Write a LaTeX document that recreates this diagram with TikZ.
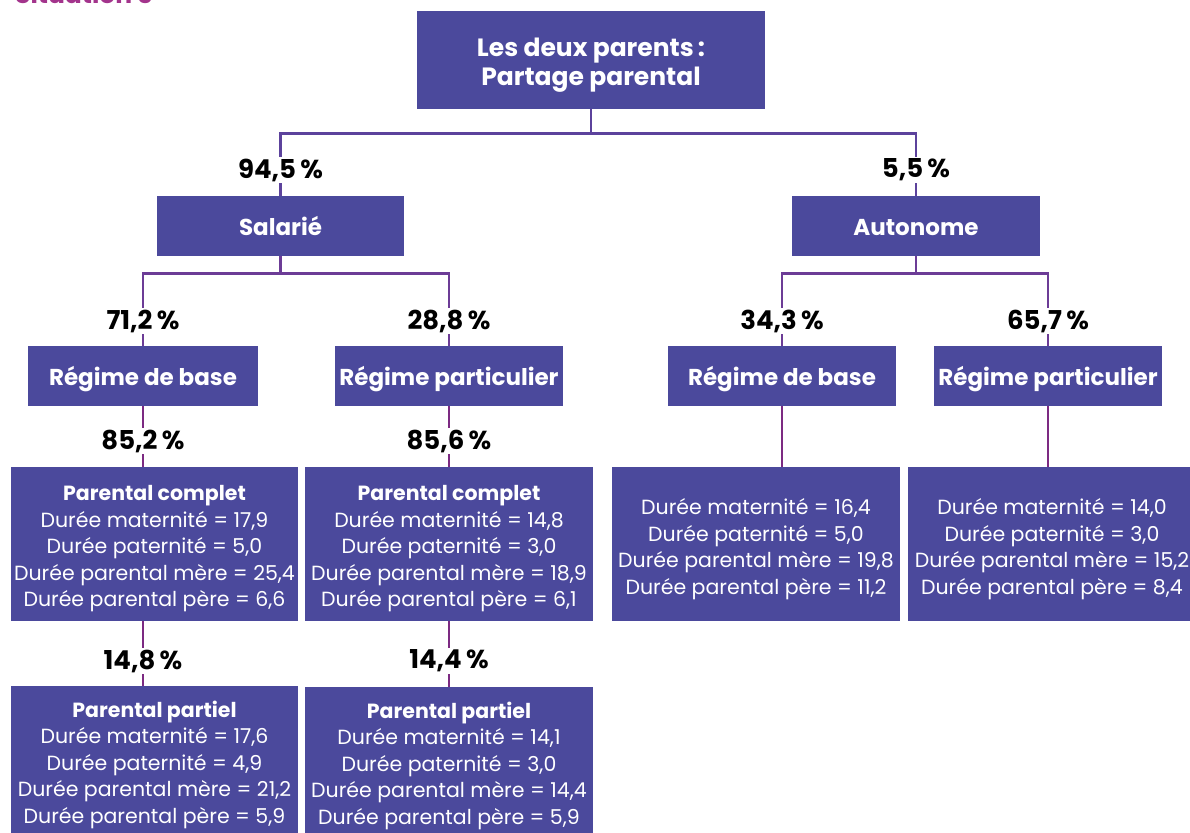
\documentclass[tikz,border=0pt]{standalone}
\usepackage{fontspec}
\setmainfont{Poppins}
\usetikzlibrary{calc}
\definecolor{boxfill}{RGB}{75,73,156}
\definecolor{lineA}{RGB}{92,66,156}
\definecolor{lineB}{RGB}{108,60,150}
\definecolor{lineC}{RGB}{124,42,130}
\definecolor{sitcol}{RGB}{163,52,140}
\tikzset{
  pbox/.style={fill=boxfill, inner sep=0pt},
  wtxt/.style={text=white, inner sep=0pt, align=center},
  headtxt/.style={wtxt, font=\bfseries\fontsize{23}{28}\selectfont, text height=20pt, text depth=2pt},
  toptxt/.style={wtxt, font=\bfseries\fontsize{25}{28.5}\selectfont},
  datatxt/.style={wtxt, font=\fontsize{20.5}{26.5}\selectfont},
  pct/.style={fill=white, inner sep=1.5pt, font=\bfseries\fontsize{26}{28}\selectfont, text=black},
  connA/.style={draw=lineA, line width=2.8pt},
  connB/.style={draw=lineB, line width=2.8pt},
  connC/.style={draw=lineC, line width=2.8pt},
}
\begin{document}
\begin{tikzpicture}[x=1pt,y=-1pt]
\useasboundingbox (0,0) rectangle (1190,832);
\begin{scope}
\clip (0,0) rectangle (1190,832);
\node[anchor=base west, text=sitcol, inner sep=0pt, font=\bfseries\fontsize{25}{28}\selectfont] (sit) at (15,4) {Situation 3};

% boxes
\node[pbox, minimum width=348pt, minimum height=98pt] (top) at (591,60) {};
\node[toptxt] (topt) at ($(top.center)+(0,5)$) {Les deux parents\,:\\Partage parental};

\node[pbox, minimum width=247pt, minimum height=60pt] (sal) at (280.5,226) {};
\node[headtxt] (salt) at (sal.center) {Salarié};
\node[pbox, minimum width=248pt, minimum height=60pt] (aut) at (916,226) {};
\node[headtxt] (autt) at (aut.center) {Autonome};
\node[pbox, minimum width=230pt, minimum height=60pt] (rb1) at (143,376) {};
\node[headtxt] (rb1t) at (rb1.center) {Régime de base};
\node[pbox, minimum width=228pt, minimum height=60pt] (rp1) at (449,376) {};
\node[headtxt] (rp1t) at (rp1.center) {Régime particulier};
\node[pbox, minimum width=228pt, minimum height=60pt] (rb2) at (782,376) {};
\node[headtxt] (rb2t) at (rb2.center) {Régime de base};
\node[pbox, minimum width=228pt, minimum height=60pt] (rp2) at (1048,376) {};
\node[headtxt] (rp2t) at (rp2.center) {Régime particulier};

\node[pbox, minimum width=287pt, minimum height=154pt] (pc1) at (154.5,544) {};
\node[datatxt] (pc1t) at ($(pc1.center)+(0,5)$)
  {{\bfseries Parental complet}\\Durée maternité = 17,9\\Durée paternité = 5,0\\Durée parental mère = 25,4\\Durée parental père = 6,6};
\node[pbox, minimum width=288pt, minimum height=154pt] (pc2) at (449,544) {};
\node[datatxt] (pc2t) at ($(pc2.center)+(0,5)$)
  {{\bfseries Parental complet}\\Durée maternité = 14,8\\Durée paternité = 3,0\\Durée parental mère = 18,9\\Durée parental père = 6,1};
\node[pbox, minimum width=288pt, minimum height=154pt] (a1) at (756,544) {};
\node[datatxt] (a1t) at ($(a1.center)+(0,5)$)
  {Durée maternité = 16,4\\Durée paternité = 5,0\\Durée parental mère = 19,8\\Durée parental père = 11,2};
\node[pbox, minimum width=288pt, minimum height=154pt] (a2) at (1052,544) {};
\node[datatxt] (a2t) at ($(a2.center)+(0,5)$)
  {Durée maternité = 14,0\\Durée paternité = 3,0\\Durée parental mère = 15,2\\Durée parental père = 8,4};

\node[pbox, minimum width=287pt, minimum height=154pt] (pp1) at (154.5,763) {};
\node[datatxt] (pp1t) at ($(pp1.center)+(0,1.5)$)
  {{\bfseries Parental partiel}\\Durée maternité = 17,6\\Durée paternité = 4,9\\Durée parental mère = 21,2\\Durée parental père = 5,9};
\node[pbox, minimum width=288pt, minimum height=154pt] (pp2) at (449,764) {};
\node[datatxt] (pp2t) at ($(pp2.center)+(0,1.5)$)
  {{\bfseries Parental partiel}\\Durée maternité = 14,1\\Durée paternité = 3,0\\Durée parental mère = 14,4\\Durée parental père = 5,9};

% connectors
\coordinate (c1) at ($(top.south)+(0,24)$);
\draw[connA] (top.south) -- (c1);
\draw[connA] (c1) -| (sal.north);
\draw[connA] (c1) -| (aut.north);

\coordinate (c2) at ($(sal.south)+(0,17)$);
\draw[connB] (sal.south) -- (c2);
\draw[connB] (c2) -| (rb1.north);
\draw[connB] (c2) -| (rp1.north);

\coordinate (c3) at ($(aut.south)+(0,17)$);
\draw[connB] (aut.south) -- (c3);
\draw[connB] (c3) -| (rb2.north);
\draw[connB] (c3) -| (rp2.north);

\draw[connC] (rb1.south) -- (rb1.south |- pc1.north);
\draw[connC] (rp1.south) -- (rp1.south |- pc2.north);
\draw[connC] (rb2.south) -- (rb2.south |- a1.north);
\draw[connC] (rp2.south) -- (rp2.south |- a2.north);
\draw[connC] (rb1.south |- pc1.south) -- (rb1.south |- pp1.north);
\draw[connC] (rp1.south |- pc2.south) -- (rp1.south |- pp2.north);

% percentages
\node[pct] (p1) at (280.5,170) {94,5\,\%};
\node[pct] (p2) at (916,170) {5,5\,\%};
\node[pct] (p3) at (143,321) {71,2\,\%};
\node[pct] (p4) at (449,321) {28,8\,\%};
\node[pct] (p5) at (782,321) {34,3\,\%};
\node[pct] (p6) at (1048,321) {65,7\,\%};
\node[pct] (p7) at (143,441) {85,2\,\%};
\node[pct] (p8) at (449,441) {85,6\,\%};
\node[pct] (p9) at (143,661) {14,8\,\%};
\node[pct] (p10) at (449,661) {14,4\,\%};
\end{scope}
\end{tikzpicture}
\end{document}
